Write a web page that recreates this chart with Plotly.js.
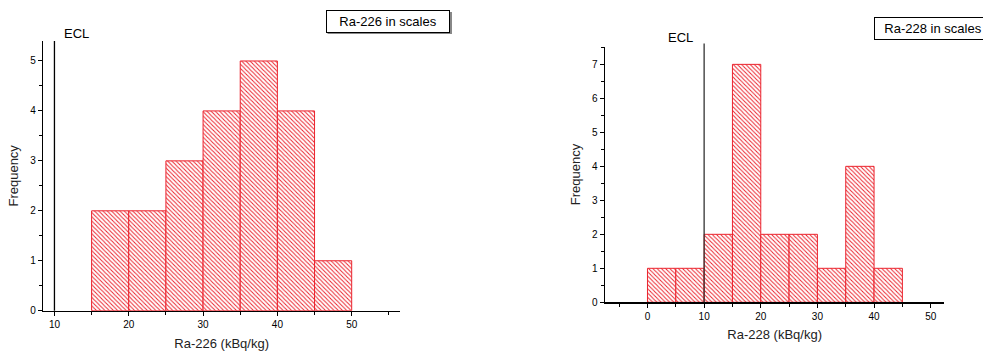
<!DOCTYPE html>
<html>
<head>
<meta charset="utf-8">
<script src="https://cdn.plot.ly/plotly-3.0.1.min.js"></script>
<style>html,body{margin:0;padding:0;background:#fff;}#chart{width:983px;height:351px;}</style>
</head>
<body>
<div id="chart"></div>
<script>
// Data
const binWidth = 5;
const ra226BinStarts = [15, 20, 25, 30, 35, 40, 45];
const ra226Counts = [2, 2, 3, 4, 5, 4, 1];
const ra228BinStarts = [0, 5, 10, 15, 20, 25, 30, 35, 40];
const ra228Counts = [1, 1, 2, 7, 2, 2, 1, 4, 1];
const eclValue = 10;
const leftTitle = "Ra-226 in scales";
const rightTitle = "Ra-228 in scales";
const leftXLabel = "Ra-226 (kBq/kg)";
const rightXLabel = "Ra-228 (kBq/kg)";
const yLabel = "Frequency";

const W = 983, H = 351;
const FONT = "Liberation Sans, Arial, Helvetica, sans-serif";
const RED = "rgb(235,35,45)";

function barTrace(starts, counts, xa, ya) {
  return {
    type: "bar", x: starts, y: counts, width: binWidth, offset: 0,
    xaxis: xa, yaxis: ya, showlegend: false, hoverinfo: "skip",
    marker: {
      color: "white",
      line: {color: RED, width: 1},
      pattern: {shape: "\\", fgcolor: RED, bgcolor: "white", size: 3, solidity: 0.33}
    }
  };
}

const traces = [
  barTrace(ra226BinStarts, ra226Counts, "x", "y"),
  barTrace(ra228BinStarts, ra228Counts, "x2", "y2")
];

function xAxis(domain, range, tick0, anchor, title) {
  return {
    domain: domain, range: range, anchor: anchor,
    showline: true, linecolor: "black", linewidth: 1.5,
    showgrid: false, zeroline: false,
    ticks: "outside", ticklen: 4, tickwidth: 1, tickcolor: "black",
    tick0: tick0, dtick: 10,
    minor: {dtick: 5, tick0: tick0 + 5, ticks: "outside", ticklen: 3, tickcolor: "black", tickwidth: 1},
    tickfont: {family: FONT, size: 10, color: "black"},
    title: {text: title, font: {family: FONT, size: 13, color: "#222"}, standoff: 9},
    automargin: false, fixedrange: true
  };
}
function yAxis(domain, range, anchor) {
  return {
    domain: domain, range: range, anchor: anchor,
    showline: true, linecolor: "black", linewidth: 1.5,
    showgrid: false, zeroline: false,
    ticks: "outside", ticklen: 4, tickwidth: 1, tickcolor: "black",
    tick0: 0, dtick: 1,
    minor: {dtick: 0.5, ticks: "outside", ticklen: 3, tickcolor: "black", tickwidth: 1},
    tickfont: {family: FONT, size: 10, color: "black"},
    title: {text: yLabel, font: {family: FONT, size: 13, color: "#222"}, standoff: 8},
    automargin: false, fixedrange: true
  };
}

const layout = {
  width: W, height: H,
  margin: {l: 0, r: 0, t: 0, b: 0},
  paper_bgcolor: "white", plot_bgcolor: "white",
  showlegend: false, bargap: 0,
  xaxis: xAxis([43.3 / W, 400 / W], [8.5, 56.5], 10, "y", leftXLabel),
  yaxis: yAxis([1 - 310.7 / H, 1 - 41 / H], [0, 5.4], "x"),
  xaxis2: xAxis([605 / W, 944.3 / W], [-7.5, 52.4], 0, "y2", rightXLabel),
  yaxis2: yAxis([1 - 302.3 / H, 1 - 46.7 / H], [0, 7.52], "x2"),
  shapes: [
    {type: "line", xref: "x", yref: "y domain", x0: eclValue, x1: eclValue, y0: 0, y1: 1,
     line: {color: "black", width: 1.3}, layer: "above"},
    {type: "line", xref: "x2", yref: "y2 domain", x0: eclValue, x1: eclValue, y0: 0, y1: 1.013,
     line: {color: "#333", width: 1.3}, layer: "above"},
    // box shadows
    {type: "rect", xref: "paper", yref: "paper", x0: 327.5 / W, x1: 452 / W, y0: 1 - 34 / H, y1: 1 - 12 / H,
     line: {width: 0}, fillcolor: "#888", layer: "below"},
    {type: "rect", xref: "paper", yref: "paper", x0: 876 / W, x1: 990 / W, y0: 1 - 39.5 / H, y1: 1 - 18.5 / H,
     line: {width: 0}, fillcolor: "#888", layer: "below"}
  ],
  annotations: [
    {xref: "paper", yref: "paper", x: 325.7 / W, y: 1 - 10 / H, xanchor: "left", yanchor: "top",
     text: leftTitle, showarrow: false, font: {family: FONT, size: 13, color: "black"},
     bgcolor: "white", bordercolor: "black", borderwidth: 1, borderpad: 2, width: 118, height: 17},
    {xref: "paper", yref: "paper", x: 874.3 / W, y: 1 - 16.7 / H, xanchor: "left", yanchor: "top",
     text: rightTitle, showarrow: false, font: {family: FONT, size: 13, color: "black"},
     bgcolor: "white", bordercolor: "black", borderwidth: 1, borderpad: 2, width: 112, height: 17, align: "center"},
    {xref: "paper", yref: "paper", x: 76 / W, y: 1 - 33 / H, xanchor: "center", yanchor: "middle",
     text: "ECL", showarrow: false, font: {family: FONT, size: 13, color: "black"}},
    {xref: "paper", yref: "paper", x: 680 / W, y: 1 - 37 / H, xanchor: "center", yanchor: "middle",
     text: "ECL", showarrow: false, font: {family: FONT, size: 13, color: "black"}}
  ]
};

Plotly.newPlot("chart", traces, layout, {staticPlot: true, displayModeBar: false});
</script>
</body>
</html>
